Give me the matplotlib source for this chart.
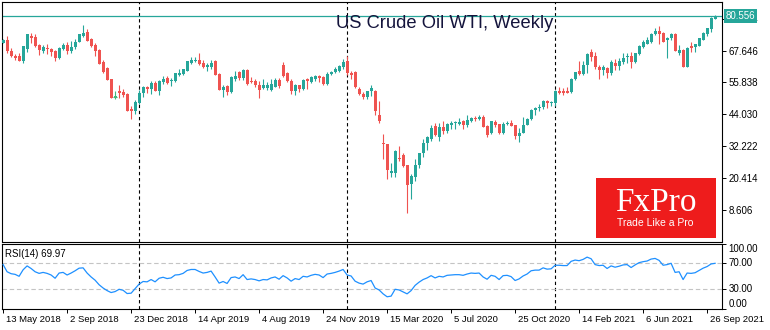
import numpy as np
import pandas as pd
import matplotlib
matplotlib.use("Agg")
import matplotlib.pyplot as plt
from matplotlib.patches import Rectangle
from matplotlib.transforms import blended_transform_factory, offset_copy

plt.rcParams['font.family'] = ['Liberation Sans', 'DejaVu Sans']

title = 'US Crude Oil WTI, Weekly'
first_week = '2018-05-13'
year_starts = ['2019-01-06', '2020-01-05', '2021-01-03']

opens = [
    70.6, 71.6, 67.4, 65.7, 65.7, 63.9, 68.2, 73.1, 72.9, 69.8,
    67.4, 68.7, 68.2, 67.4, 64.8, 68.4, 69.6, 67.4, 68.9, 70.9,
    73.1, 74.6, 71.9, 69.9, 67.9, 63.5, 61.2, 57.0, 50.6, 52.6,
    52.3, 51.6, 45.9, 45.1, 48.1, 51.8, 54.0, 53.55, 55.8, 52.8,
    56.0, 57.5, 56.3, 56.3, 58.75, 59.0, 60.2, 63.2, 63.7, 64.2,
    63.2, 61.5, 61.7, 63.7, 59.0, 53.05, 54.5, 52.3, 57.3, 59.7,
    57.5, 60.5, 56.5, 56.5, 55.0, 53.8, 53.8, 53.05, 54.3, 56.8,
    62.2, 59.5, 56.5, 52.6, 54.8, 53.3, 57.0, 56.0, 57.0, 58.25,
    58.0, 55.3, 59.0, 59.7, 60.2, 61.5, 63.95, 59.2, 59.7, 53.55,
    51.5, 50.3, 52.6, 52.8, 43.9, 33.4, 33.0, 22.4, 22.1, 27.8,
    28.8, 25.1, 18.15, 20.6, 25.3, 29.5, 33.25, 34.7, 39.7, 35.7,
    39.2, 37.95, 40.2, 40.7, 40.4, 41.4, 40.2, 41.4, 42.65, 42.4,
    43.0, 39.7, 36.96, 41.2, 40.3, 37.0, 40.6, 40.9, 39.9, 35.8,
    37.1, 40.1, 42.15, 45.5, 46.3, 46.6, 49.1, 48.2, 48.3, 52.8,
    52.5, 52.5, 52.3, 57.0, 60.2, 59.0, 62.2, 67.2, 65.7, 61.7,
    60.6, 61.35, 59.4, 63.1, 62.1, 63.3, 65.3, 65.8, 63.3, 66.3,
    69.0, 70.3, 70.75, 73.97, 74.96, 74.2, 71.5, 72.2, 73.97, 66.8,
    68.0, 61.6, 69.5, 69.0, 69.5, 71.7, 73.97, 75.7, 79.35,
]
highs = [
    71.8, 73.1, 68.5, 66.4, 66.7, 69.4, 74.0, 74.1, 73.9, 70.1,
    69.8, 70.1, 68.7, 67.9, 68.9, 70.4, 70.9, 71.1, 72.1, 73.9,
    77.2, 75.6, 72.4, 70.4, 68.1, 64.0, 61.5, 57.3, 52.6, 54.8,
    53.3, 51.8, 47.1, 49.3, 53.0, 54.5, 54.5, 56.3, 56.3, 56.6,
    58.25, 58.25, 57.5, 59.5, 60.7, 61.0, 63.8, 65.2, 65.2, 66.9,
    64.2, 63.2, 64.2, 64.2, 59.2, 54.8, 54.8, 58.1, 60.0, 60.2,
    61.0, 60.7, 58.0, 57.3, 56.3, 57.3, 56.0, 57.0, 57.5, 57.5,
    63.45, 59.7, 57.0, 55.3, 55.0, 57.0, 57.5, 58.25, 58.75, 58.75,
    58.25, 59.7, 60.2, 61.5, 62.2, 64.4, 65.7, 60.0, 60.0, 54.0,
    52.4, 52.8, 54.8, 53.0, 49.1, 36.7, 33.1, 25.8, 30.8, 32.3,
    29.5, 25.2, 21.9, 27.55, 29.6, 35.0, 36.0, 39.9, 40.7, 40.9,
    41.4, 40.9, 41.4, 41.7, 42.65, 41.9, 43.9, 43.15, 43.4, 43.6,
    43.8, 39.9, 41.7, 41.9, 40.5, 41.1, 41.6, 41.9, 40.1, 39.0,
    43.1, 42.6, 46.0, 46.7, 47.7, 49.3, 49.4, 48.9, 53.1, 54.0,
    53.8, 54.0, 57.5, 59.8, 63.7, 63.9, 66.7, 68.2, 67.2, 62.5,
    62.3, 61.6, 64.1, 64.6, 64.8, 66.8, 66.8, 67.3, 66.9, 69.8,
    71.5, 72.7, 74.2, 76.2, 76.9, 74.5, 72.6, 74.2, 74.1, 69.8,
    68.1, 69.0, 71.0, 70.3, 72.5, 74.5, 76.0, 80.2, 81.0,
]
lows = [
    70.4, 66.9, 65.4, 64.2, 63.8, 63.2, 67.2, 70.6, 68.9, 65.9,
    66.9, 66.4, 65.7, 63.9, 64.4, 67.9, 66.4, 66.9, 68.4, 70.8,
    72.9, 71.1, 68.9, 65.7, 62.6, 59.5, 56.7, 50.0, 49.6, 50.1,
    50.6, 45.1, 42.4, 44.1, 47.7, 50.3, 51.8, 51.6, 52.6, 51.3,
    55.3, 55.3, 54.5, 56.0, 58.25, 58.75, 60.0, 62.7, 63.45, 62.2,
    61.2, 60.0, 61.0, 58.5, 52.9, 50.6, 51.1, 52.1, 56.3, 56.8,
    56.8, 54.8, 55.5, 54.3, 50.1, 53.3, 53.05, 52.6, 54.0, 53.8,
    58.0, 56.0, 51.6, 51.1, 52.3, 53.05, 53.55, 55.8, 56.5, 56.0,
    55.0, 55.0, 58.75, 59.2, 59.7, 61.0, 58.5, 57.3, 53.9, 51.1,
    49.6, 49.8, 50.8, 43.9, 40.9, 27.5, 20.1, 20.9, 20.9, 26.8,
    24.6, 7.5, 12.7, 19.4, 24.1, 28.3, 30.8, 34.2, 36.0, 34.2,
    36.7, 37.2, 38.7, 38.7, 39.9, 38.7, 39.2, 41.2, 41.4, 41.9,
    39.2, 35.5, 36.7, 39.4, 36.6, 36.6, 39.9, 39.6, 34.9, 33.6,
    37.0, 39.9, 42.0, 43.9, 45.2, 46.0, 46.2, 47.2, 47.2, 51.6,
    51.3, 51.8, 51.8, 56.8, 58.5, 58.75, 59.5, 63.7, 60.7, 57.3,
    58.6, 57.6, 58.6, 60.6, 60.6, 62.8, 63.1, 61.1, 63.1, 66.0,
    68.8, 70.0, 70.5, 73.5, 70.3, 70.75, 65.05, 71.7, 67.4, 66.05,
    61.5, 61.5, 67.0, 67.3, 69.3, 71.5, 73.2, 74.7, 79.3,
]
closes = [
    71.6, 67.4, 65.7, 65.1, 63.9, 69.4, 73.85, 72.5, 69.4, 67.9,
    68.9, 68.2, 67.2, 64.9, 68.5, 69.6, 67.7, 68.9, 70.9, 73.85,
    74.3, 71.4, 69.4, 67.7, 62.7, 59.7, 56.8, 50.1, 50.6, 51.8,
    51.3, 45.4, 45.1, 48.6, 51.8, 54.0, 53.55, 55.8, 52.8, 56.5,
    57.3, 55.5, 56.8, 59.2, 59.2, 60.7, 63.7, 64.2, 64.2, 62.7,
    61.7, 62.2, 63.2, 58.75, 53.05, 54.3, 52.3, 58.0, 58.25, 57.5,
    60.5, 55.3, 56.0, 54.8, 53.05, 55.0, 54.8, 55.3, 56.8, 54.5,
    58.25, 56.3, 52.6, 55.0, 53.3, 56.8, 56.3, 58.0, 58.25, 57.5,
    55.3, 59.0, 59.7, 60.7, 62.0, 63.45, 59.2, 58.5, 54.0, 51.6,
    50.3, 52.6, 53.8, 45.4, 41.7, 33.1, 23.35, 23.1, 30.5, 27.6,
    24.8, 17.9, 21.1, 25.3, 29.5, 33.25, 35.5, 38.9, 36.2, 39.2,
    37.95, 40.4, 40.9, 41.2, 41.2, 40.2, 41.9, 42.65, 42.15, 43.15,
    39.4, 36.2, 41.4, 39.9, 37.05, 40.6, 40.9, 39.85, 35.8, 37.1,
    40.1, 42.15, 45.5, 46.3, 46.6, 49.1, 48.2, 48.5, 52.5, 52.05,
    51.8, 52.06, 57.26, 59.74, 59.0, 62.2, 66.4, 65.4, 61.5, 60.5,
    61.6, 59.4, 63.3, 62.1, 63.8, 65.1, 65.8, 63.3, 66.8, 69.5,
    71.0, 71.7, 73.97, 74.96, 73.97, 71.0, 72.5, 73.7, 67.5, 68.0,
    61.6, 68.8, 68.8, 70.0, 72.2, 74.2, 75.95, 79.66, 80.556,
]
rsi = [
    68, 57, 54, 53, 50, 60, 66, 62, 57, 54.5,
    56, 54.5, 52, 47, 55, 56, 52, 55, 58.5, 62.5,
    63, 55, 49, 44, 37, 32, 28, 25, 26.5, 30,
    28.5, 23.5, 24, 31, 38, 42, 41.5, 45, 41.5, 47,
    48.5, 46.5, 47.5, 52, 52.5, 54.5, 59, 60.5, 60.5, 57.5,
    55, 56, 58, 49, 39.5, 42, 39, 48, 49, 46.5,
    52.5, 45, 46, 45, 43, 45, 44.5, 47.5, 49, 45.5,
    51, 47.5, 42.5, 46.5, 45, 50, 49, 51.5, 53, 52,
    48, 53.5, 54.5, 56, 58, 60.5, 52, 50.5, 42.5, 39.5,
    38, 41.5, 43.5, 32, 29, 23, 18.5, 19.5, 30, 29,
    26, 23, 28, 36, 41, 45, 47.5, 51, 47.5, 50,
    49, 51.5, 52, 52.5, 52.5, 51.5, 53.5, 55, 54.5, 55,
    49, 45.5, 51.5, 50, 45, 51, 51.5, 49.5, 43.5, 46,
    50.5, 53.5, 58.5, 59.5, 59.5, 63, 61, 61.5, 67, 67,
    66.5, 66.5, 73, 75, 74, 76, 79.5, 77, 68, 66.5,
    67, 62, 66, 64, 65.5, 67.5, 68, 63.5, 67.5, 71,
    72.5, 73.5, 76.5, 77.5, 74.5, 67, 68, 70, 56, 57,
    45, 55, 54.5, 55.5, 59, 62.5, 65, 69, 69.97,
]

price_ticks = [8.606, 20.414, 32.222, 44.030, 55.838, 67.646, 79.454]
rsi_ticks = [100, 70, 30, 0]
rsi_levels = [70, 30]

BULL = '#26a69a'
BEAR = '#ef5350'
DOJI = '#45b97c'
W, H = 770, 330

o = np.array(opens)
h = np.array(highs)
l = np.array(lows)
c = np.array(closes)
n = len(c)
x = np.arange(n)
weeks = pd.date_range(first_week, periods=n, freq='7D')
seps = weeks.get_indexer(pd.to_datetime(year_starts))
date_idx = x[::16]
date_lbl = [f"{d.day} {d:%b %Y}" for d in weeks[::16]]

colors = np.where(c > o, BULL, np.where(c < o, BEAR, DOJI))

fig = plt.figure(figsize=(W / 100, H / 100), dpi=100)
ax = fig.add_axes([2.3 / W, 1 - 241.5 / H, 720 / W, 239.2 / H])
ax2 = fig.add_axes([2.3 / W, 1 - 308.8 / H, 720 / W, 65 / H])

for a in (ax, ax2):
    for s in a.spines.values():
        s.set_linewidth(0.8)
        s.set_color('black')
    a.set_xlim(-0.2, n + 0.8)
    a.yaxis.tick_right()
    for s in seps:
        a.axvline(s, color='black', lw=0.8, ls=(0, (3, 2.5)), zorder=1)

# candles
ax.vlines(x, l, h, colors=colors, linewidth=0.8, zorder=2)
body = np.maximum(np.abs(c - o), 0.25)
ax.bar(x, body, bottom=np.minimum(o, c), width=0.72, color=colors,
       linewidth=0, zorder=3)
flat = c == o
ax.hlines(c[flat], x[flat] - 0.45, x[flat] + 0.45, colors=DOJI, lw=0.8, zorder=3)

ax.axhline(c[-1], color=BULL, lw=0.9, zorder=1)
ax.set_ylim(-3.2, 85.6)
ax.set_xticks([])
ax.set_yticks(price_ticks, [f"{v:.3f}" for v in price_ticks])
ax.tick_params(axis='y', length=3, width=0.7, pad=1.5, labelsize=7)
ax.text(1 + 3.5 / 720, c[-1], f"{c[-1]:.3f}",
        transform=blended_transform_factory(ax.transAxes, ax.transData),
        fontsize=7, color='white', ha='left', va='center', zorder=10,
        clip_on=False,
        bbox=dict(boxstyle='square,pad=0.18', fc=BULL, ec='none'))

# RSI panel
ax2.plot(x, rsi, color='#1e90ff', lw=0.9, zorder=3)
for v in rsi_levels:
    ax2.axhline(v, color='#c4c4c4', lw=0.8, ls=(0, (4, 2.5)), zorder=1)
ax2.set_ylim(0, 100)
ax2.set_yticks(rsi_ticks, [''] * len(rsi_ticks))
ax2.tick_params(axis='y', length=3, width=0.7)
yblend = blended_transform_factory(ax2.transAxes, ax2.transData)
for v in rsi_ticks:
    va = 'top' if v == max(rsi_ticks) else ('bottom' if v == min(rsi_ticks) else 'center')
    ax2.text(1 + 6 / 720, v, f"{v:.2f}", transform=yblend, fontsize=7,
             ha='left', va=va, clip_on=False)

ax2.set_xticks(date_idx, [''] * len(date_idx))
ax2.tick_params(axis='x', length=3, width=0.7)
xblend = offset_copy(blended_transform_factory(ax2.transData, ax2.transAxes),
                     fig=fig, x=3, y=0, units='dots')
for i, lbl in zip(date_idx, date_lbl):
    ax2.text(i, -0.16, lbl, transform=xblend, fontsize=6.8, ha='left',
             va='center', clip_on=False)

fig.text(5 / W, 1 - 254 / H, f"RSI(14) {rsi[-1]:.2f}", fontsize=7,
         ha='left', va='center')

fig.text(336 / W, 1 - 28.3 / H, title, fontsize=13.2, color='#14143c',
         ha='left', va='baseline')

# logo block
fig.add_artist(Rectangle((596 / W, 1 - 238 / H), 120 / W, 60 / H,
                         transform=fig.transFigure, fc='#ee1c1c', ec='none'))
fig.text(655.5 / W, 1 - 211 / H, 'FxPro', family='Liberation Serif',
         fontsize=24, color='white', ha='center', va='baseline')
fig.text(655.5 / W, 1 - 226 / H, 'Trade Like a Pro', fontsize=7.5,
         color='white', ha='center', va='baseline')

fig.savefig('out.png', dpi=100, facecolor='white')
